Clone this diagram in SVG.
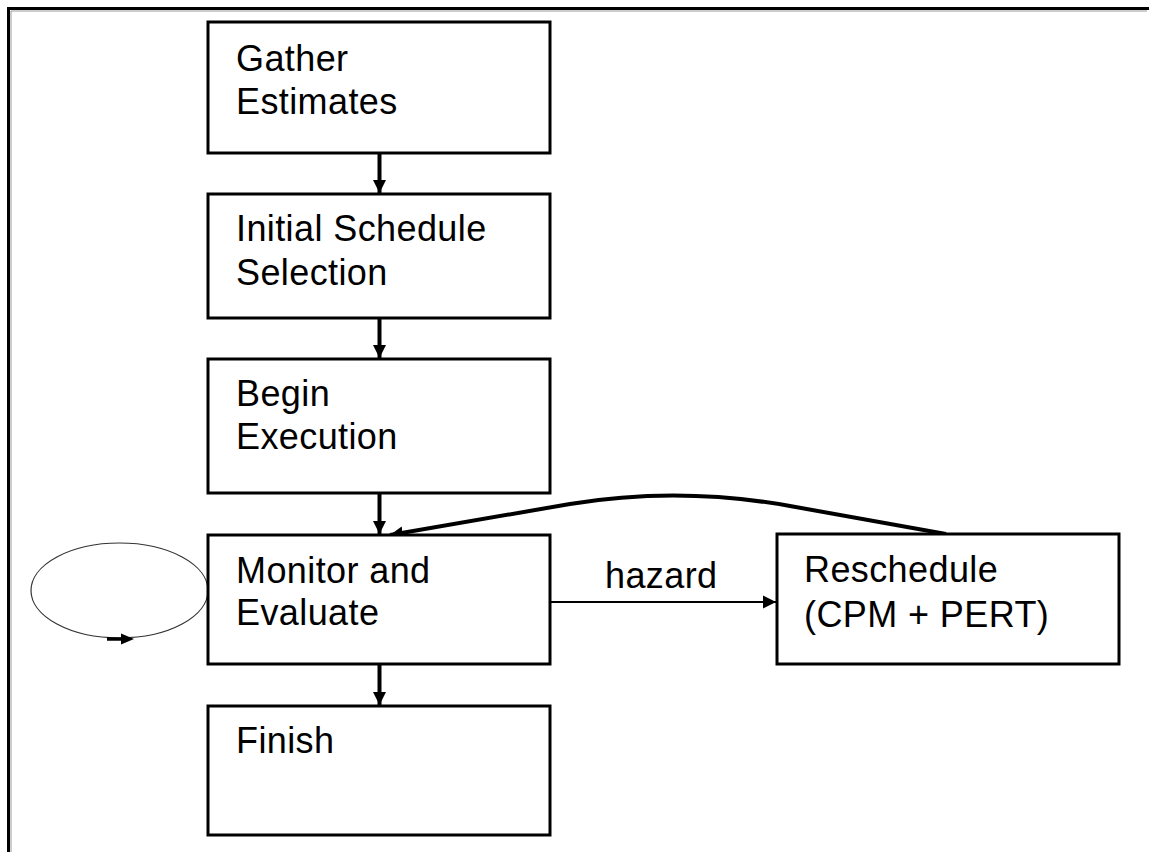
<svg xmlns="http://www.w3.org/2000/svg" width="1157" height="852" viewBox="0 0 1157 852">
  <style>
    .box { fill: #ffffff; stroke: #000000; stroke-width: 3; }
    .label { font-family: "Liberation Sans", Arial, sans-serif; font-size: 36px; letter-spacing: 0.4px; fill: #000000; }
    .flow { fill: none; stroke: #000000; stroke-width: 4; }
    .thin { fill: none; stroke: #000000; stroke-width: 2; }
  </style>
  <defs>
    <marker id="head" markerUnits="userSpaceOnUse" markerWidth="16" markerHeight="16" viewBox="0 0 16 16" refX="13" refY="8" orient="auto">
      <path d="M0,1.5 L13,8 L0,14.5 Z" fill="#000000"/>
    </marker>
  </defs>

  <rect x="0" y="0" width="1157" height="852" fill="#ffffff"/>

  <!-- page frame: top and left rules -->
  <g id="frame">
    <line x1="11" y1="11" x2="1147" y2="11" stroke="#9a9a9a" stroke-width="1"/>
    <line x1="11" y1="11" x2="11" y2="852" stroke="#9a9a9a" stroke-width="1"/>
    <line x1="7" y1="8.5" x2="1149" y2="8.5" stroke="#000000" stroke-width="3"/>
    <line x1="8.5" y1="7" x2="8.5" y2="852" stroke="#000000" stroke-width="3"/>
  </g>

  <g id="connectors">
    <line class="flow" x1="379.5" y1="153" x2="379.5" y2="193" marker-end="url(#head)"/>
    <line class="flow" x1="379.5" y1="318" x2="379.5" y2="358" marker-end="url(#head)"/>
    <line class="flow" x1="379.5" y1="493" x2="379.5" y2="534" marker-end="url(#head)"/>
    <line class="flow" x1="379.5" y1="664" x2="379.5" y2="705" marker-end="url(#head)"/>
    <line class="thin" x1="550" y1="602" x2="776" y2="602" marker-end="url(#head)"/>
    <!-- return path from Reschedule back to Monitor -->
    <path class="flow" d="M946,534 L790,506 Q678,486 570,504 L390,535" marker-end="url(#head)"/>
    <!-- self loop on Monitor and Evaluate -->
    <ellipse cx="119.5" cy="590.5" rx="88.5" ry="47.5" fill="none" stroke="#333333" stroke-width="1.2"/>
    <line x1="107" y1="639" x2="124" y2="639" stroke="#000000" stroke-width="3.5"/>
    <path d="M121,633.5 L134,639 L121,644.5 Z" fill="#000000"/>
    <text class="label" x="605" y="588">hazard</text>
  </g>

  <g id="gather">
    <rect class="box" x="208" y="22" width="342" height="131"/>
    <text class="label" x="236" y="71">Gather</text>
    <text class="label" x="236" y="114">Estimates</text>
  </g>

  <g id="initial">
    <rect class="box" x="208" y="194" width="342" height="124"/>
    <text class="label" x="236" y="241">Initial Schedule</text>
    <text class="label" x="236" y="285">Selection</text>
  </g>

  <g id="begin">
    <rect class="box" x="208" y="359" width="342" height="134"/>
    <text class="label" x="236" y="406">Begin</text>
    <text class="label" x="236" y="449">Execution</text>
  </g>

  <g id="monitor">
    <rect class="box" x="208" y="535" width="342" height="129"/>
    <text class="label" x="236" y="583">Monitor and</text>
    <text class="label" x="236" y="625">Evaluate</text>
  </g>

  <g id="finish">
    <rect class="box" x="208" y="706" width="342" height="129"/>
    <text class="label" x="236" y="753">Finish</text>
  </g>

  <g id="reschedule">
    <rect class="box" x="777" y="534" width="342" height="130"/>
    <text class="label" x="804" y="582">Reschedule</text>
    <text class="label" x="804" y="627">(CPM + PERT)</text>
  </g>
</svg>
